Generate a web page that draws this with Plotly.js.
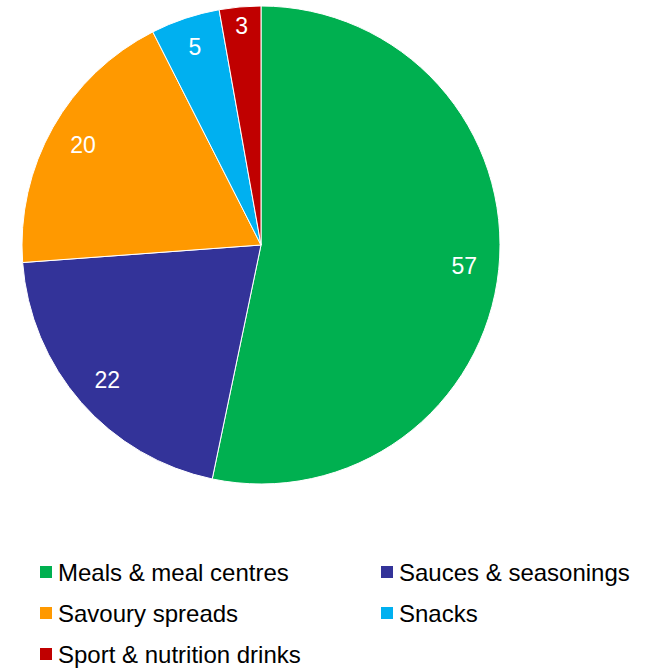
<!DOCTYPE html>
<html>
<head>
<meta charset="utf-8">
<script src="https://cdn.plot.ly/plotly-3.0.1.min.js"></script>
<style>html,body{margin:0;padding:0;background:#fff;}#chart{width:648px;height:671px;}</style>
</head>
<body>
<div id="chart"></div>
<script>
const categories = ["Meals & meal centres", "Sauces & seasonings", "Savoury spreads", "Snacks", "Sport & nutrition drinks"];
const values = [57, 22, 20, 5, 3];
const colors = ["#00B050", "#333399", "#FF9900", "#00B0F0", "#C00000"];

const W = 648, H = 671;
const dom = {x: [22 / W, 500 / W], y: [1 - 484 / H, 1 - 6 / H]};
const FONT = "Liberation Sans, Arial, sans-serif";

const data = [{
  type: "pie",
  labels: categories,
  values: values,
  sort: false,
  direction: "clockwise",
  rotation: 0,
  marker: {colors: colors, line: {color: "#ffffff", width: 1}},
  textinfo: "none",
  hoverinfo: "label+value",
  automargin: false,
  showlegend: false,
  domain: dom
}, {
  type: "pie",
  labels: categories,
  values: values,
  sort: false,
  direction: "clockwise",
  rotation: 0,
  hole: 0.71,
  showlegend: false,
  marker: {colors: categories.map(() => "rgba(0,0,0,0)"), line: {width: 0}},
  textinfo: "value",
  textposition: "inside",
  insidetextorientation: "horizontal",
  insidetextfont: {family: FONT, size: 23, color: "#ffffff"},
  hoverinfo: "skip",
  automargin: false,
  domain: dom
}];

// Legend (two columns, drawn below the pie)
const legendColX = [46, 387];   // swatch centres, px
const legendRow0 = 572, legendRowGap = 41, swatch = 12, textGap = 12;
const shapes = [], annotations = [];
categories.forEach((name, i) => {
  const cx = legendColX[i % 2];
  const cy = legendRow0 + legendRowGap * Math.floor(i / 2);
  shapes.push({
    type: "rect", xref: "paper", yref: "paper",
    x0: (cx - swatch / 2) / W, x1: (cx + swatch / 2) / W,
    y0: 1 - (cy + swatch / 2) / H, y1: 1 - (cy - swatch / 2) / H,
    fillcolor: colors[i], line: {width: 0}
  });
  annotations.push({
    xref: "paper", yref: "paper",
    x: (cx + swatch / 2 + textGap - 8) / W, y: 1 - cy / H,
    xanchor: "left", yanchor: "middle",
    text: name, showarrow: false,
    font: {family: FONT, size: 24, color: "#000000"}
  });
});

const layout = {
  width: W, height: H,
  margin: {l: 0, r: 0, t: 0, b: 0},
  paper_bgcolor: "#ffffff",
  font: {family: FONT, color: "#000000"},
  showlegend: false,
  shapes: shapes,
  annotations: annotations
};

Plotly.newPlot("chart", data, layout, {displayModeBar: false, staticPlot: true});
</script>
</body>
</html>
